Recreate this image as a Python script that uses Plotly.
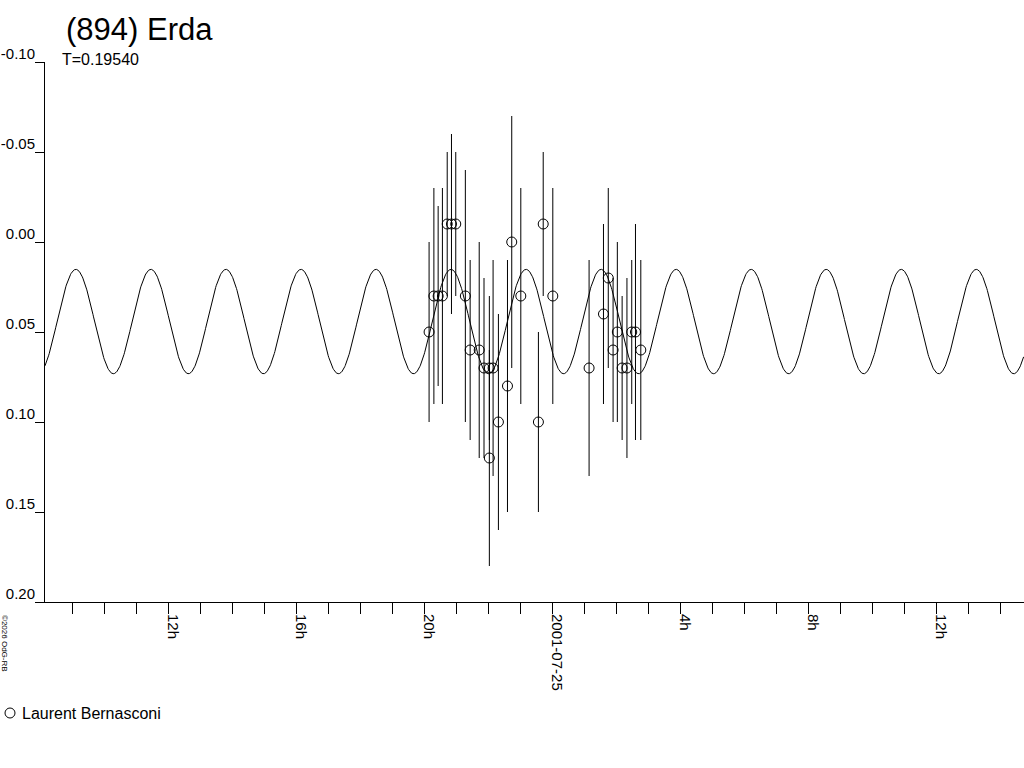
import numpy as np
import pandas as pd
import plotly.graph_objects as go

# ---- texts ----
TITLE = "(894) Erda"
SUBTITLE = "T=0.19540"
OBSERVER = "Laurent Bernasconi"
COPYRIGHT = "©2026 OdG-RB"

obs_time = [
    "2001-07-24 20:09", "2001-07-24 20:18", "2001-07-24 20:26", "2001-07-24 20:34",
    "2001-07-24 20:43", "2001-07-24 20:51", "2001-07-24 20:59", "2001-07-24 21:17",
    "2001-07-24 21:26", "2001-07-24 21:43", "2001-07-24 21:52", "2001-07-24 22:02",
    "2001-07-24 22:02", "2001-07-24 22:09", "2001-07-24 22:19", "2001-07-24 22:36",
    "2001-07-24 22:44", "2001-07-24 23:01", "2001-07-24 23:34", "2001-07-24 23:43",
    "2001-07-25 00:01", "2001-07-25 01:09", "2001-07-25 01:36", "2001-07-25 01:45",
    "2001-07-25 01:54", "2001-07-25 02:02", "2001-07-25 02:11", "2001-07-25 02:20",
    "2001-07-25 02:29", "2001-07-25 02:36", "2001-07-25 02:46",
]
obs_mag = [
    0.05, 0.03, 0.03, 0.03,
    -0.01, -0.01, -0.01, 0.03,
    0.06, 0.06, 0.07, 0.07,
    0.12, 0.07, 0.10, 0.08,
    0.00, 0.03, 0.10, -0.01,
    0.03, 0.07, 0.04, 0.02,
    0.06, 0.05, 0.07, 0.07,
    0.05, 0.05, 0.06,
]
obs_err = [
    0.05, 0.06, 0.05, 0.06,
    0.04, 0.05, 0.04, 0.07,
    0.05, 0.06, 0.05, 0.04,
    0.06, 0.06, 0.06, 0.07,
    0.07, 0.06, 0.05, 0.04,
    0.06, 0.06, 0.05, 0.05,
    0.04, 0.05, 0.04, 0.05,
    0.04, 0.06, 0.05,
]

period_days = 0.19540
fit_mean = 0.0442
fit_amp = 0.0290
fit_epoch = "2001-07-24 23:10:48"  # time of a brightness maximum

# ---- axes ----
x_range = ["2001-07-24 08:08:50", "2001-07-25 14:44:30"]
x_tickvals = ["2001-07-24 12:00", "2001-07-24 16:00", "2001-07-24 20:00",
              "2001-07-25 00:00", "2001-07-25 04:00", "2001-07-25 08:00",
              "2001-07-25 12:00"]
x_ticktext = ["12h", "16h", "20h", "2001-07-25", "4h", "8h", "12h"]
y_range = [0.20, -0.10]
y_tickvals = [-0.10, -0.05, 0.00, 0.05, 0.10, 0.15, 0.20]
y_ticktext = ["-0.10", "-0.05", "0.00", "0.05", "0.10", "0.15", "0.20"]

FONT = "Liberation Sans, Arial, sans-serif"

# model curve sampled across the axis range
t_curve = pd.date_range(x_range[0], x_range[1], freq="1min")
phase = (t_curve - pd.Timestamp(fit_epoch)) / pd.Timedelta(days=period_days)
mag_curve = fit_mean - fit_amp * np.cos(4 * np.pi * np.asarray(phase, dtype=float))

fig = go.Figure()
fig.add_trace(go.Scatter(
    x=t_curve, y=mag_curve, mode="lines",
    line=dict(color="black", width=1), showlegend=False, hoverinfo="skip",
))
fig.add_trace(go.Scatter(
    x=pd.to_datetime(obs_time), y=obs_mag, mode="markers", name=OBSERVER,
    marker=dict(symbol="circle-open", size=10, color="black", line=dict(width=1, color="black")),
    error_y=dict(type="data", array=obs_err, visible=True, color="black", thickness=1, width=0),
    showlegend=False,
))

fig.update_layout(
    width=1024, height=768,
    margin=dict(l=45, r=0, t=62, b=166, autoexpand=False),
    paper_bgcolor="white", plot_bgcolor="white",
    font=dict(family=FONT, color="black", size=15),
    showlegend=False,
    xaxis=dict(
        type="date", range=x_range, automargin=False,
        tickmode="array", tickvals=x_tickvals, ticktext=x_ticktext,
        ticks="outside", ticklen=11, tickwidth=1, tickcolor="black",
        tickangle=90, ticklabelshift=5, ticklabelstandoff=-3,
        tickfont=dict(family=FONT, size=15, color="black"),
        showline=True, linecolor="black", linewidth=1,
        showgrid=False, zeroline=False,
        minor=dict(dtick=3600000, tick0="2001-07-24 00:00", ticks="outside",
                   ticklen=11, tickwidth=1, tickcolor="black", showgrid=False),
    ),
    yaxis=dict(
        range=y_range, automargin=False,
        tickmode="array", tickvals=y_tickvals, ticktext=y_ticktext,
        ticks="outside", ticklen=9, tickwidth=1, tickcolor="black",
        ticklabelposition="outside top", ticklabelstandoff=6, ticklabelshift=-3,
        tickfont=dict(family=FONT, size=15, color="black"),
        showline=True, linecolor="black", linewidth=1,
        showgrid=False, zeroline=False,
    ),
)

# title and period
fig.add_annotation(text=TITLE, xref="paper", yref="paper", x=0, y=1,
                   xanchor="left", yanchor="middle", xshift=19, yshift=33,
                   showarrow=False, font=dict(family=FONT, size=31, color="black"))
fig.add_annotation(text=SUBTITLE, xref="paper", yref="paper", x=0, y=1,
                   xanchor="left", yanchor="middle", xshift=15, yshift=3,
                   showarrow=False, font=dict(family=FONT, size=16, color="black"))

# legend (marker + observer name)
fig.add_shape(type="circle", xref="paper", yref="paper",
              xsizemode="pixel", ysizemode="pixel", xanchor=0, yanchor=0,
              x0=-40, x1=-30, y0=-116, y1=-106,
              line=dict(color="black", width=1))
fig.add_annotation(text=OBSERVER, xref="paper", yref="paper", x=0, y=0,
                   xanchor="left", yanchor="middle", xshift=-25, yshift=-111,
                   showarrow=False, font=dict(family=FONT, size=16, color="black"))

# copyright
fig.add_annotation(text=COPYRIGHT, xref="paper", yref="paper", x=0, y=0,
                   xanchor="center", yanchor="middle", xshift=-40, yshift=-41,
                   textangle=90, showarrow=False,
                   font=dict(family=FONT, size=8, color="black"))

fig.write_html("out.html", config={"displayModeBar": False},
               post_script="document.body.style.margin='0';")
